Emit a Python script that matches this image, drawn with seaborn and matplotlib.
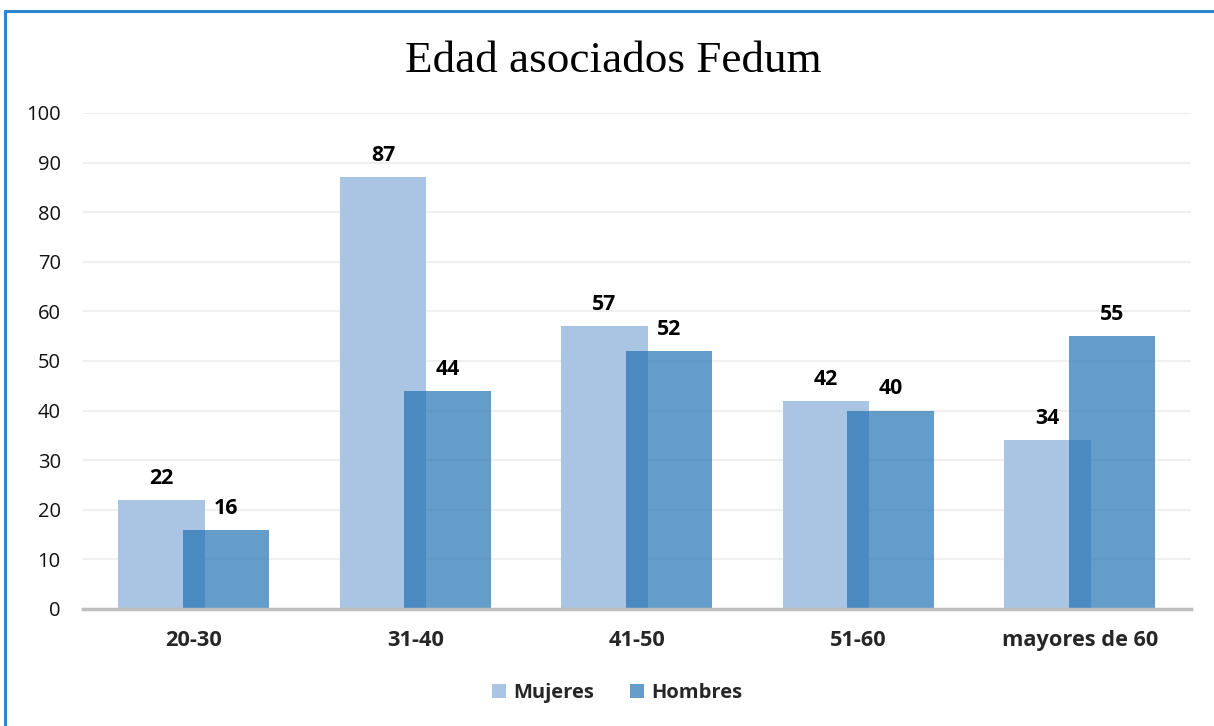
import matplotlib
matplotlib.use("Agg")
import matplotlib.pyplot as plt
import seaborn as sns
import pandas as pd
from matplotlib.lines import Line2D
from matplotlib.patches import Patch

# ---- data ----
categories = ["20-30", "31-40", "41-50", "51-60", "mayores de 60"]
mujeres = [22, 87, 57, 42, 34]
hombres = [16, 44, 52, 40, 55]
series_names = ["Mujeres", "Hombres"]
title = "Edad asociados Fedum"
y_ticks = [0, 10, 20, 30, 40, 50, 60, 70, 80, 90, 100]

df = pd.DataFrame({
    "Edad": categories * 2,
    "Sexo": [series_names[0]] * len(categories) + [series_names[1]] * len(categories),
    "Valor": mujeres + hombres,
})

sns.set_theme(style="white")
plt.rcParams["font.family"] = ["Open Sans", "DejaVu Sans"]

c_muj = (170/255, 196/255, 227/255)
c_hom = (31/255, 113/255, 177/255)
hom_alpha = 0.69
c_hom_view = (101/255, 157/255, 201/255)

fig = plt.figure(figsize=(12.14, 7.26), dpi=100)
ax = fig.add_axes([83/1214, 1 - 609/726, (1190.5 - 83)/1214, (609 - 113)/726])

sns.barplot(data=df, x="Edad", y="Valor", hue="Sexo", order=categories,
            hue_order=series_names, palette=[c_muj, c_hom], dodge=True,
            width=0.782, errorbar=None, saturation=1, linewidth=0, ax=ax,
            legend=False)

shift = 0.05
for i, cont in enumerate(ax.containers):
    for p in cont:
        p.set_x(p.get_x() + (shift if i == 0 else -shift))
        if i == 1:
            p.set_alpha(hom_alpha)
    ax.bar_label(cont, fmt="%d", padding=8, fontsize=15.3, fontweight="bold",
                 color="black")

ax.set_ylim(0, 100)
ax.set_xlim(-0.5, len(categories) - 0.5)
ax.set_yticks(y_ticks)
ax.yaxis.grid(True, color="#EFEFEF", linewidth=1.5)
ax.set_axisbelow(True)
for s in ["left", "right", "top"]:
    ax.spines[s].set_visible(False)
ax.spines["bottom"].set_color("#BFBFBF")
ax.spines["bottom"].set_linewidth(2.5)
ax.spines["bottom"].set_zorder(5)
ax.tick_params(axis="y", length=0, pad=16, labelsize=14.5, labelcolor="#111111")
ax.tick_params(axis="x", length=0, pad=15, labelsize=15.7)
for lab in ax.get_xticklabels():
    lab.set_fontweight("bold")
ax.set_xlabel("")
ax.set_ylabel("")

fig.text(0.505, 1 - 61/726, title, ha="center", va="center",
         fontsize=32.5, family=["Liberation Serif", "DejaVu Serif"], color="black")

handles = [Patch(facecolor=c_muj, edgecolor="none"),
           Patch(facecolor=c_hom_view, edgecolor="none")]
fig.legend(handles, series_names, loc="center", bbox_to_anchor=(617/1214, 1 - 693/726),
           ncol=2, frameon=False, prop={"weight": "bold", "size": 14.5},
           handlelength=0.7, handleheight=0.7, handletextpad=0.35, columnspacing=1.8)

# chart border (top and left visible)
border_c = "#2E86D0"
fig.add_artist(Line2D([5/1214, 1.0], [1 - 11/726, 1 - 11/726], color=border_c,
                      linewidth=2.2, transform=fig.transFigure))
fig.add_artist(Line2D([5/1214, 5/1214], [1 - 11/726, 0.0], color=border_c,
                      linewidth=2.2, transform=fig.transFigure))

fig.savefig("out.png", dpi=100)
